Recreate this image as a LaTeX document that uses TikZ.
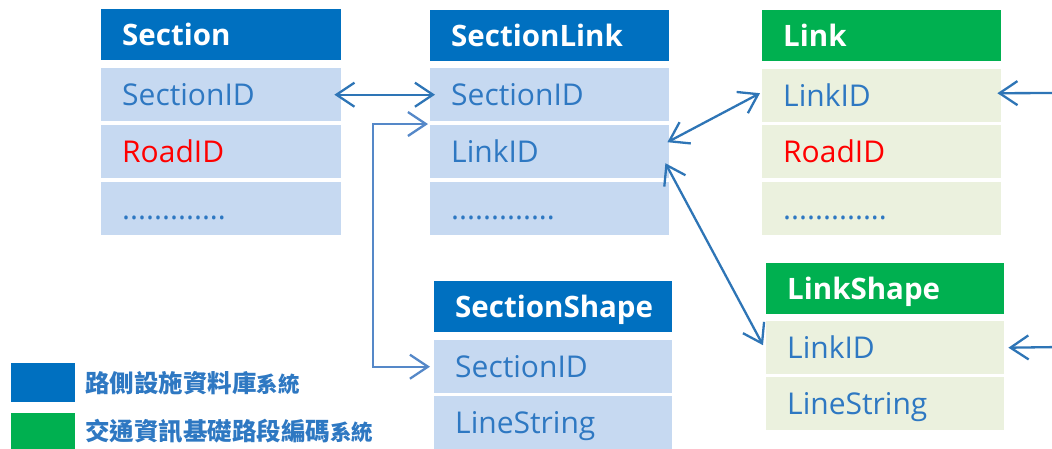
\documentclass[tikz,border=0pt]{standalone}
\usepackage{fontspec}
\setmainfont{Open Sans}
\newfontfamily\cjk{Noto Sans CJK TC}
\usetikzlibrary{arrows.meta}

\definecolor{hdrblue}{HTML}{0070C0}
\definecolor{hdrgreen}{HTML}{00B050}
\definecolor{cellblue}{HTML}{C6D9F1}
\definecolor{cellgreen}{HTML}{EBF1DE}
\definecolor{txtblue}{HTML}{2E78C2}
\definecolor{arrblue}{HTML}{2E75B6}
\definecolor{elbblue}{HTML}{5588C8}
\definecolor{keyred}{HTML}{FF0000}

\tikzset{
  tbl/.style={anchor=north west, inner xsep=21pt, inner ysep=0pt, align=left,
    text depth=0pt, text width=#1},
  hdr/.style={tbl=#1, font=\fontsize{29.5}{29.5}\selectfont\bfseries, text=white,
    text height=21pt, minimum height=51pt},
  hdrB/.style={hdr=#1, fill=hdrblue},
  hdrG/.style={hdr=#1, fill=hdrgreen},
  cell/.style={tbl=#1, font=\fontsize{30}{30}\selectfont, text=txtblue,
    text height=21.5pt, minimum height=53pt},
  cellB/.style={cell=#1, fill=cellblue},
  cellG/.style={cell=#1, fill=cellgreen},
  conn/.style={draw=arrblue, line width=2.3pt},
  elbow/.style={draw=elbblue, line width=2.3pt},
  legbox/.style={anchor=north west, minimum width=64pt, minimum height=39pt, inner sep=0pt},
  legtxt/.style={anchor=west, inner sep=0pt, text=txtblue,
    font=\cjk\bfseries\fontsize{24.5}{24.5}\selectfont},
}
\newcommand\sysword{{\fontsize{21.5}{21.5}\selectfont 系統}}

\begin{document}
\begin{tikzpicture}[x=1pt,y=-1pt, >={Straight Barb[length=18pt,width=24pt]}]
\useasboundingbox (0,0) rectangle (1052,448);
\clip (0,0) rectangle (1052,448);

% Section
\node[hdrB=198pt]  (sec)  at (101,9)   {Section};
\node[cellB=198pt] (sec1) at (101,68)  {SectionID};
\node[cellB=198pt] (sec2) at (101,125) {\textcolor{keyred}{RoadID}};
\node[cellB=198pt] (sec3) at (101,182) {.............};

% SectionLink
\node[hdrB=197pt]  (sl)  at (430,10)  {SectionLink};
\node[cellB=197pt] (sl1) at (430,68)  {SectionID};
\node[cellB=197pt] (sl2) at (430,125) {LinkID};
\node[cellB=197pt] (sl3) at (430,182) {.............};

% Link
\node[hdrG=197pt]  (lk)  at (762,10)  {Link};
\node[cellG=197pt] (lk1) at (762,69)  {LinkID};
\node[cellG=197pt] (lk2) at (762,125) {\textcolor{keyred}{RoadID}};
\node[cellG=197pt] (lk3) at (762,182) {.............};

% LinkShape
\node[hdrG=196pt]  (ls)  at (766,263) {LinkShape};
\node[cellG=196pt] (ls1) at (766,321) {LinkID};
\node[cellG=196pt] (ls2) at (766,377) {LineString};

% SectionShape
\node[hdrB=196pt]  (ss)  at (434,281) {SectionShape};
\node[cellB=196pt] (ss1) at (434,340) {SectionID};
\node[cellB=196pt] (ss2) at (434,396) {LineString};

% legend
\node[legbox, fill=hdrblue]  (legB) at (11,363) {};
\node[legtxt] (legBt) at (85,383) {路側設施資料庫\sysword};
\node[legbox, fill=hdrgreen] (legG) at (11,413) {};
\node[legtxt] (legGt) at (85,431) {交通資訊基礎路段編碼\sysword};

% relations
\draw[conn, <->] ([xshift=-7pt]sec1.east) -- ([xshift=5pt]sl1.west);
\draw[elbow, <->] ([xshift=-2pt,yshift=1pt]sl2.north west) -- ++(-55,0)
  |- ([xshift=-4pt]ss1.west);
\draw[conn, <->] ([xshift=-2pt,yshift=9.5pt]sl2.east) -- ([xshift=-2pt,yshift=2.5pt]lk1.west);
\draw[conn, <->] ([xshift=-4pt,yshift=-11.5pt]sl2.east) -- ([xshift=-3pt,yshift=2.5pt]ls1.west);

\coordinate (inLk) at (1060,93);
\coordinate (inLs) at (1060,347);
\draw[conn, ->] (inLk) -- ([xshift=-4pt,yshift=2.5pt]lk1.east);
\draw[conn, ->] (inLs) -- ([xshift=4pt]ls1.east);
\end{tikzpicture}
\end{document}
